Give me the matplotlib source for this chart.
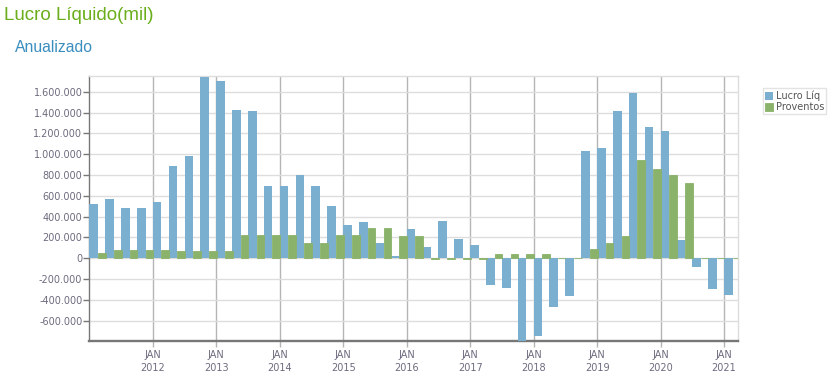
import matplotlib.pyplot as plt
import numpy as np
import pandas as pd

# quarters from 2011Q1 to 2021Q1
quarters = pd.period_range("2011Q1", "2021Q1", freq="Q")

lucro_liq = [522000, 570000, 483000, 483000, 541000, 886000, 982000, 1741000,
             1702000, 1424000, 1414000, 694000, 694000, 800000, 694000, 502000,
             320000, 349000, 147000, 22000, 282000, 109000, 358000, 186000,
             128000, -258000, -290000, -792000, -744000, -464000, -367000, 1030000,
             1059000, 1414000, 1587000, 1261000, 1222000, 176000, -84000, -296000,
             -354000]
proventos = [48000, 80000, 80000, 80000, 80000, 70000, 70000, 70000,
             70000, 224000, 224000, 224000, 224000, 147000, 147000, 224000,
             224000, 291000, 291000, 214000, 214000, -5000, -5000, -5000,
             -5000, 42000, 42000, 42000, 42000, 0, 0, 90000,
             147000, 214000, 944000, 858000, 800000, 723000, 0, 0,
             0]

years = list(range(2012, 2022))
y_ticks = [-600000, -400000, -200000, 0, 200000, 400000, 600000, 800000,
           1000000, 1200000, 1400000, 1600000]

blue = "#7bafd0"
green = "#8ab26a"
label_color = "#6e6a7e"

x = np.array([q.year + (q.quarter - 1) / 4 for q in quarters])

W, H = 831, 377
fig = plt.figure(figsize=(W / 100, H / 100), dpi=100)
ax = fig.add_axes([89.3 / W, (H - 340.7) / H, (738 - 89.3) / W, (340.7 - 76) / H])

ax.bar(x, lucro_liq, width=0.136, align="edge", color=blue, label="Lucro Líq", zorder=3)
ax.bar(x + 0.136, proventos, width=0.122, align="edge", color=green,
       edgecolor=green, linewidth=0.6, label="Proventos", zorder=3)

ax.set_xlim(2011.0, 2021.22)
ax.set_ylim(min(lucro_liq), max(lucro_liq) + 10000)

ax.set_yticks(y_ticks)
ax.set_yticklabels([f"{v:,.0f}".replace(",", ".") for v in y_ticks])
ax.set_xticks(years)
ax.set_xticklabels([f"JAN\n{y}" for y in years], linespacing=1.35)

ax.tick_params(axis="y", length=4, width=1, color="#777777", pad=1,
               labelsize=7, labelcolor=label_color)
ax.tick_params(axis="x", length=4, width=1, color="#b5b5b5", pad=3,
               labelsize=7, labelcolor=label_color)

ax.set_axisbelow(True)
ax.grid(axis="y", color="#dddddd", linewidth=1)
ax.grid(axis="x", color="#b5b5b5", linewidth=1)

for side in ["top", "right"]:
    ax.spines[side].set_color("#dddddd")
    ax.spines[side].set_linewidth(1)
ax.spines["left"].set_color("#777777")
ax.spines["left"].set_linewidth(1)
ax.spines["bottom"].set_color("#777777")
ax.spines["bottom"].set_linewidth(1.7)

fig.text(4 / W, 1 - 16 / H, "Lucro Líquido(mil)", color="#6aae1b", fontsize=13.5,
         family="Liberation Sans", va="center", ha="left")
fig.text(15 / W, 1 - 48 / H, "Anualizado", color="#3a8dbf", fontsize=11.3,
         family="Liberation Sans", va="center", ha="left")

leg = fig.legend(loc="upper left", bbox_to_anchor=(763 / W, 1 - 88 / H), fontsize=7,
                 handlelength=0.75, handleheight=0.9, handletextpad=0.3,
                 borderpad=0.25, labelspacing=0.1, borderaxespad=0,
                 frameon=True, fancybox=False, labelcolor="#555555")
leg.get_frame().set_edgecolor("#dddddd")
leg.get_frame().set_linewidth(1)

fig.savefig("out.png", dpi=100)
